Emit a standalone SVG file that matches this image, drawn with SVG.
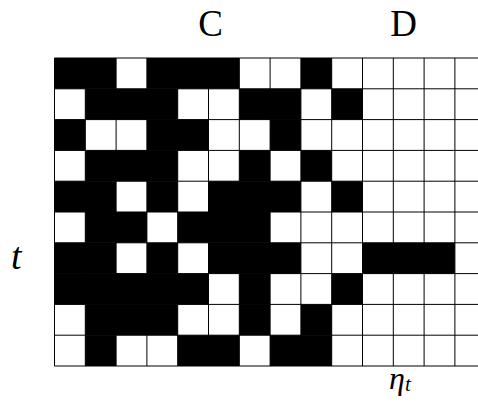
<svg xmlns="http://www.w3.org/2000/svg" width="478" height="406" viewBox="0 0 478 406">
<style>
.blk{fill:#000}
.grid{stroke:#000;stroke-width:1;fill:none}
.lbl{font-family:"Liberation Serif","Times New Roman",serif;fill:#000}
.it{font-style:italic}
</style>
<rect width="478" height="406" fill="#fff"/>
<g id="cells-C">
<rect class="blk" x="54.5" y="58" width="61.6" height="30.8"/>
<rect class="blk" x="146.9" y="58" width="92.4" height="30.8"/>
<rect class="blk" x="300.9" y="58" width="30.8" height="30.8"/>
<rect class="blk" x="85.3" y="88.8" width="92.4" height="30.8"/>
<rect class="blk" x="239.3" y="88.8" width="61.6" height="30.8"/>
<rect class="blk" x="331.7" y="88.8" width="30.8" height="30.8"/>
<rect class="blk" x="54.5" y="119.6" width="30.8" height="30.8"/>
<rect class="blk" x="146.9" y="119.6" width="61.6" height="30.8"/>
<rect class="blk" x="270.1" y="119.6" width="30.8" height="30.8"/>
<rect class="blk" x="85.3" y="150.4" width="92.4" height="30.8"/>
<rect class="blk" x="239.3" y="150.4" width="30.8" height="30.8"/>
<rect class="blk" x="300.9" y="150.4" width="30.8" height="30.8"/>
<rect class="blk" x="54.5" y="181.2" width="61.6" height="30.8"/>
<rect class="blk" x="146.9" y="181.2" width="30.8" height="30.8"/>
<rect class="blk" x="208.5" y="181.2" width="92.4" height="30.8"/>
<rect class="blk" x="331.7" y="181.2" width="30.8" height="30.8"/>
<rect class="blk" x="85.3" y="212" width="61.6" height="30.8"/>
<rect class="blk" x="177.7" y="212" width="92.4" height="30.8"/>
<rect class="blk" x="54.5" y="242.8" width="61.6" height="30.8"/>
<rect class="blk" x="146.9" y="242.8" width="30.8" height="30.8"/>
<rect class="blk" x="208.5" y="242.8" width="92.4" height="30.8"/>
<rect class="blk" x="54.5" y="273.6" width="154" height="30.8"/>
<rect class="blk" x="239.3" y="273.6" width="30.8" height="30.8"/>
<rect class="blk" x="331.7" y="273.6" width="30.8" height="30.8"/>
<rect class="blk" x="85.3" y="304.4" width="92.4" height="30.8"/>
<rect class="blk" x="239.3" y="304.4" width="30.8" height="30.8"/>
<rect class="blk" x="300.9" y="304.4" width="30.8" height="30.8"/>
<rect class="blk" x="85.3" y="335.2" width="30.8" height="30.8"/>
<rect class="blk" x="177.7" y="335.2" width="61.6" height="30.8"/>
<rect class="blk" x="270.1" y="335.2" width="61.6" height="30.8"/>
</g>
<g id="cells-D">
<rect class="blk" x="362.5" y="242.8" width="92.4" height="30.8"/>
</g>
<g id="grid">
<path class="grid" d="M54.5 58H478M54.5 88.8H478M54.5 119.6H478M54.5 150.4H478M54.5 181.2H478M54.5 212H478M54.5 242.8H478M54.5 273.6H478M54.5 304.4H478M54.5 335.2H478M54.5 366H478"/>
<path class="grid" d="M54.5 58V366M85.3 58V366M116.1 58V366M146.9 58V366M177.7 58V366M208.5 58V366M239.3 58V366M270.1 58V366M300.9 58V366M331.7 58V366M362.5 58V366M393.3 58V366M424.1 58V366M454.9 58V366"/>
</g>
<g id="labels">
<text class="lbl" x="210.5" y="35.5" font-size="37" text-anchor="middle">C</text>
<text class="lbl" x="403.5" y="35.5" font-size="37" text-anchor="middle">D</text>
<text class="lbl it" x="11" y="269" font-size="38">t</text>
<text class="lbl it" x="389" y="389" font-size="32">η<tspan font-size="21" dy="2">t</tspan></text>
</g>
</svg>
